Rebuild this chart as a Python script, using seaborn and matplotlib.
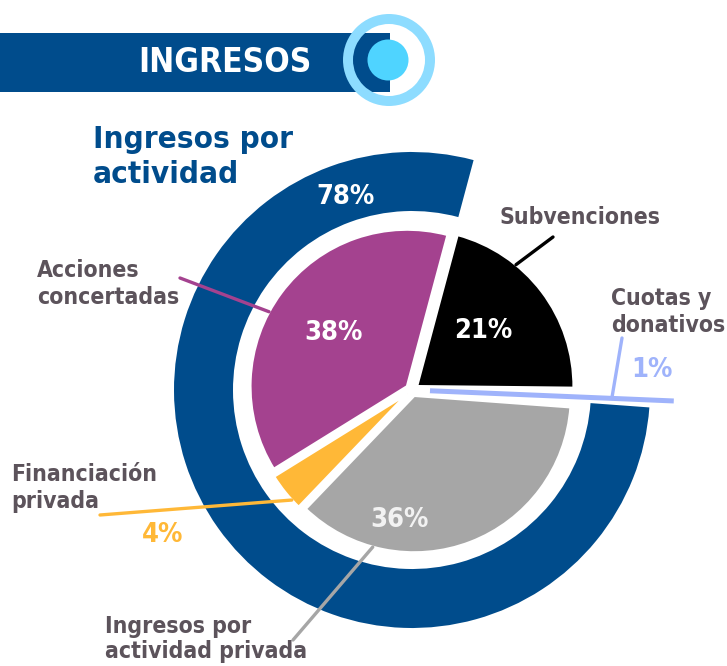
import numpy as np
import seaborn as sns
import matplotlib.pyplot as plt
import matplotlib.patches as mpatches

# datos
categorias = ["Subvenciones", "Cuotas y donativos", "Ingresos por actividad privada",
              "Financiación privada", "Acciones concertadas"]
porcentajes = [21, 1, 36, 4, 38]
anillo = [78, 22]   # ingresos por actividad / resto
colores = ["#000000", "#9fb3fb", "#a6a6a6", "#ffb837", "#a4428f"]
azul = "#004c8c"
texto = "#5c535b"

sns.set_theme(style="white")
plt.rcParams["font.family"] = ["DejaVu Sans"]
plt.rcParams["font.stretch"] = "condensed"

H = 666
fig = plt.figure(figsize=(7.27, 6.66), dpi=100)
ax = fig.add_axes([0, 0, 1, 1])

# cabecera
ax.add_patch(mpatches.Rectangle((0, H - 92), 390, 59, color=azul, lw=0))
ax.add_patch(mpatches.Wedge((389, H - 60), 46, 0, 360, width=10, color="#8ddcff", lw=0))
ax.add_patch(mpatches.Circle((388, H - 60), 20.5, color="#4fd4ff", lw=0))
ax.text(225, H - 62, "INGRESOS", color="white", fontsize=24, fontweight="bold",
        ha="center", va="center")

ax.text(93, H - 157, "Ingresos por\nactividad", color=azul, fontsize=22.5,
        fontweight="bold", ha="left", va="center", linespacing=1.3)

cx, cy = 412, H - 390
inicio = 75

# anillo exterior
ext, _ = ax.pie(anillo, radius=238, center=(cx, cy), startangle=inicio, counterclock=True,
                colors=[azul, "white"], wedgeprops=dict(width=59, lw=0), frame=True)
ext[1].set_visible(False)

# tarta interior
cuna, _ = ax.pie(porcentajes, radius=157, center=(cx, cy), startangle=inicio,
                 counterclock=False, colors=colores, explode=[6, 0, 6, 6, 6],
                 wedgeprops=dict(edgecolor="white", lw=2), frame=True)
ax.set_xlim(0, 727)
ax.set_ylim(0, H)
ax.set_aspect("equal")
ax.axis("off")


def punto(w, t, r):
    a = np.deg2rad(w.theta1 + t * (w.theta2 - w.theta1))
    return np.array([w.center[0] + r * np.cos(a), w.center[1] + r * np.sin(a)])


# cuotas: barra fina en su ángulo
cuna[1].set_visible(False)
p0 = punto(cuna[1], 0.5, 18)
p1 = punto(cuna[1], 0.5, 262)
ax.plot([p0[0], p1[0]], [p0[1], p1[1]], color=colores[1], lw=3.6, solid_capstyle="butt")

# lineas guia
def guia(a, b, color):
    ax.plot([a[0], b[0]], [a[1], b[1]], color=color, lw=2.4)

guia(punto(cuna[0], 0.68, 157), (553, H - 237), "black")
guia(punto(cuna[1], 0.5, 200), (622, H - 338), colores[1])
guia(punto(cuna[4], 0.56, 157), (180, H - 278), colores[4])
guia(punto(cuna[3], 0.75, 157), (100, H - 515), colores[3])
guia(punto(cuna[2], 0.22, 157), (293, H - 640), colores[2])

# etiquetas
kw = dict(fontsize=16.5, fontweight="bold", color=texto, linespacing=1.2)
ax.text(580, H - 217, categorias[0], ha="center", va="center", **kw)
ax.text(611, H - 312, "Cuotas y\ndonativos", ha="left", va="center", **kw)
ax.text(37, H - 284, "Acciones\nconcertadas", ha="left", va="center", **kw)
ax.text(11, H - 488, "Financiación\nprivada", ha="left", va="center", **kw)
ax.text(105, H - 663, "Ingresos por\nactividad privada", ha="left", va="bottom",
        fontsize=16.5, fontweight="bold", color=texto, linespacing=1.1)

pk = dict(fontsize=19.5, fontweight="bold", ha="center", va="center")
ax.text(652, H - 370, f"{porcentajes[1]}%", color=colores[1], **pk)
ax.text(163, H - 535, f"{porcentajes[3]}%", color=colores[3], **pk)
ax.text(345, H - 197, f"{anillo[0]}%", color="white", **pk)
ax.text(483, H - 331, f"{porcentajes[0]}%", color="white", **pk)
ax.text(333, H - 333, f"{porcentajes[4]}%", color="white", **pk)
ax.text(400, H - 520, f"{porcentajes[2]}%", color="#f2f2f2", **pk)

fig.savefig("out.png", dpi=100)
